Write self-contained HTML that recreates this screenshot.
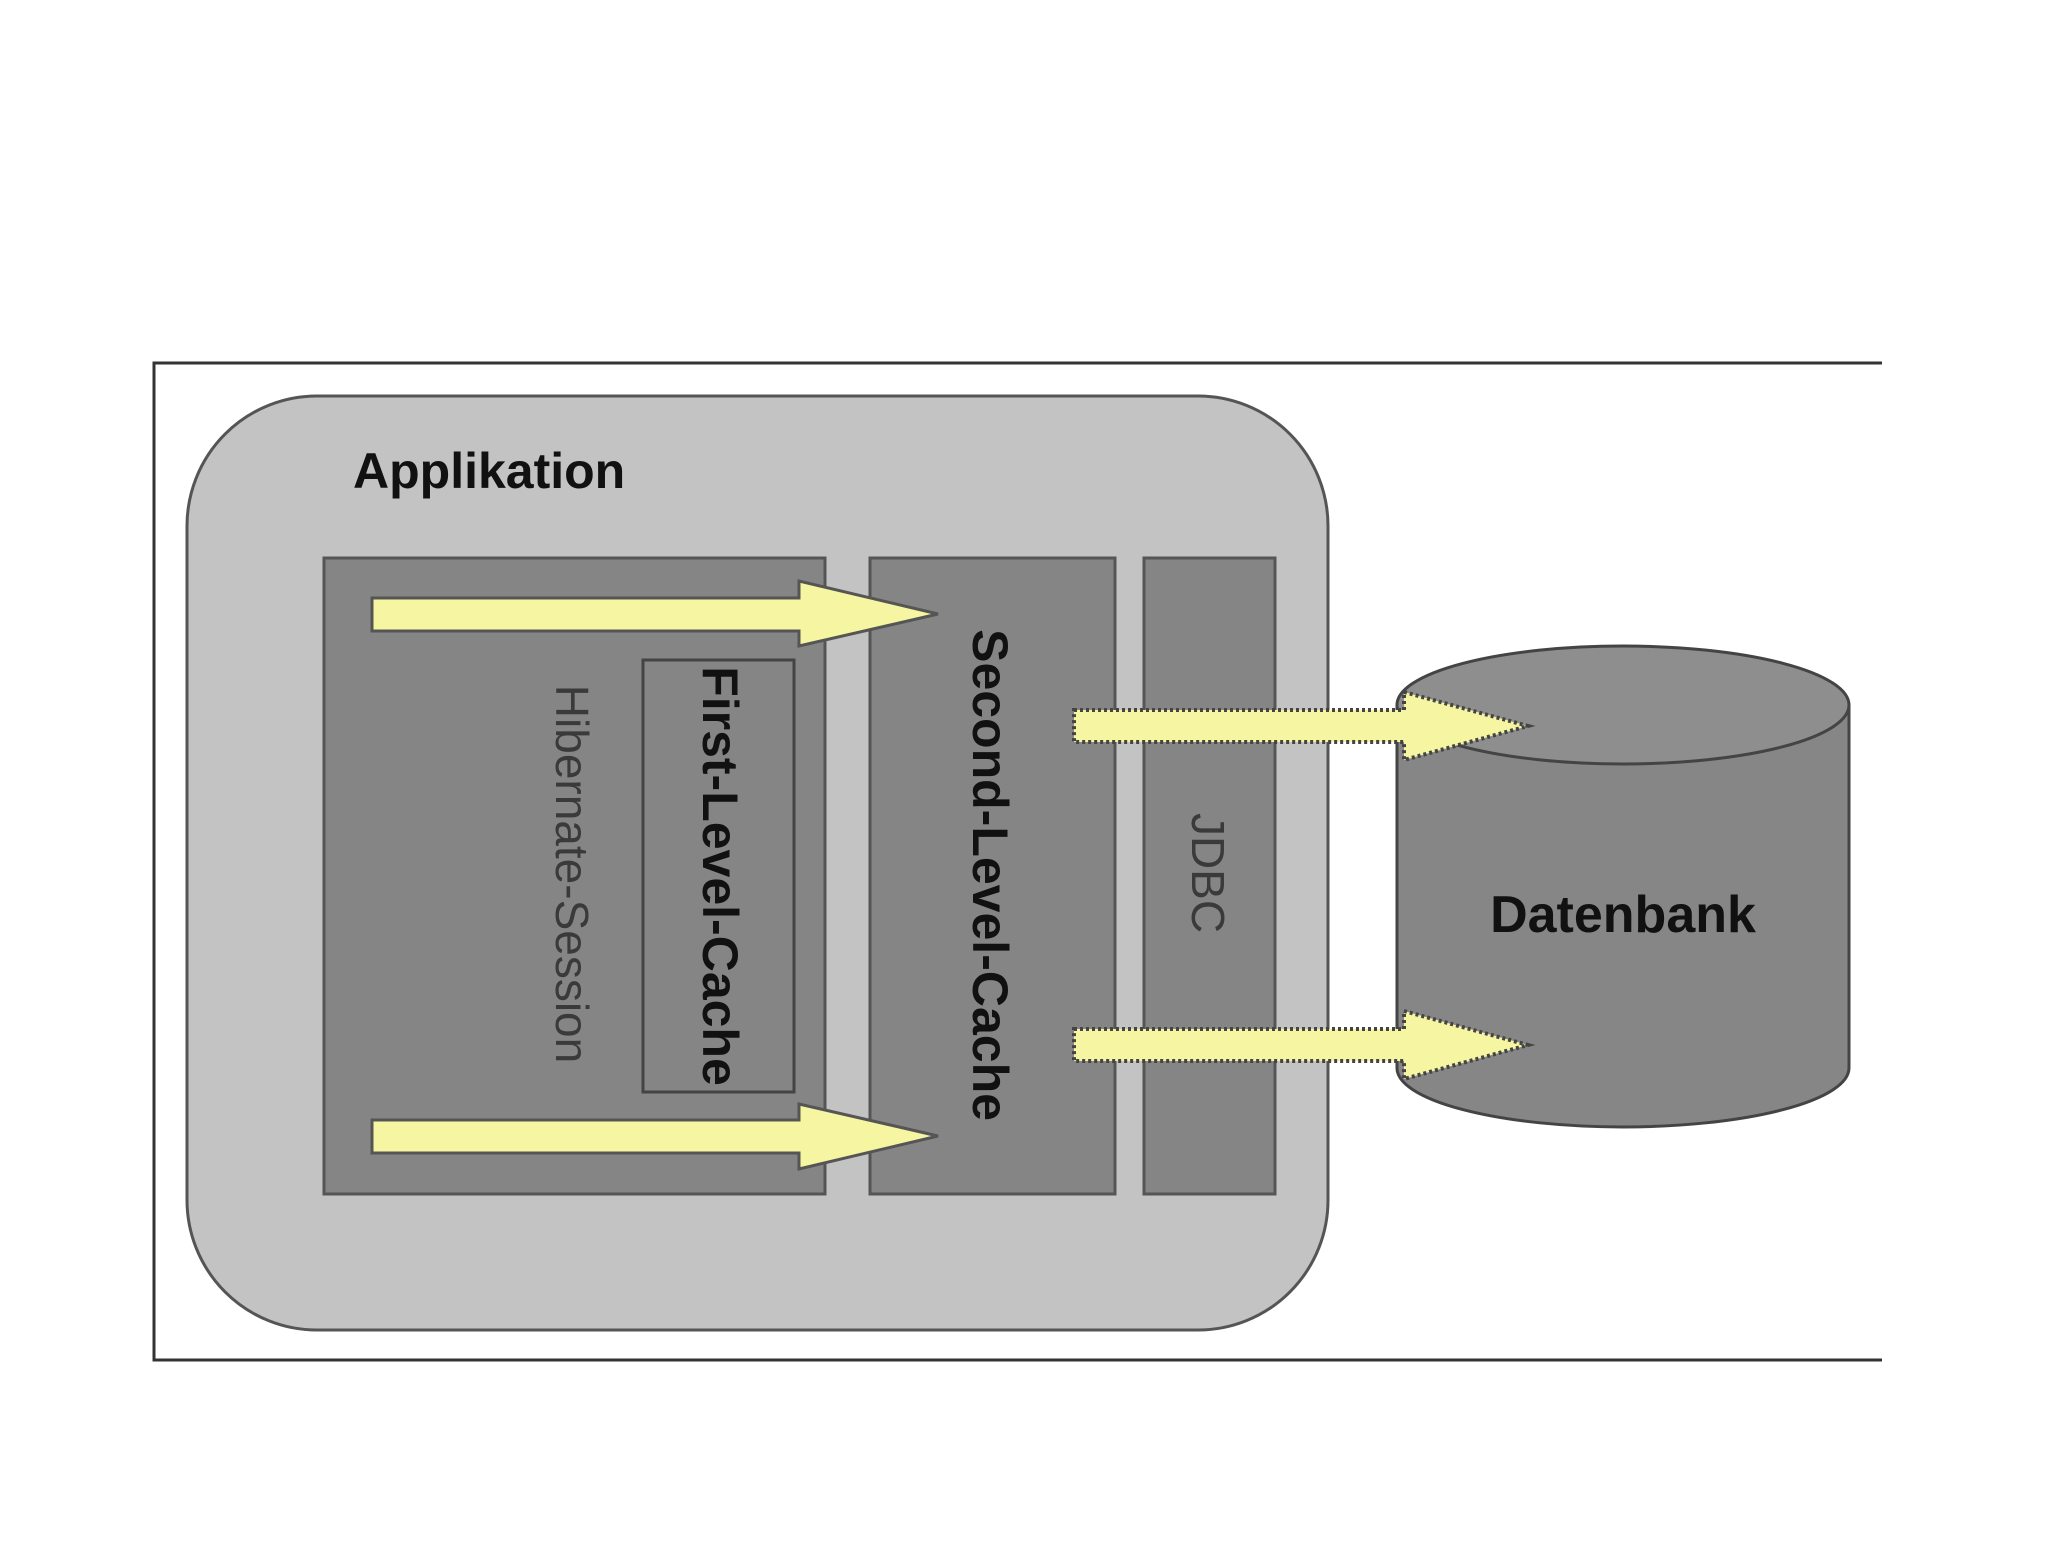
<!DOCTYPE html>
<html><head><style>html,body{margin:0;padding:0;background:#fff}</style></head>
<body>
<svg width="2048" height="1536" viewBox="0 0 2048 1536" xmlns="http://www.w3.org/2000/svg" font-family="'Liberation Sans Narrow','Liberation Sans',sans-serif">
<rect x="0" y="0" width="2048" height="1536" fill="#fff"/>
<path d="M1882 363 L154 363 L154 1360 L1882 1360" fill="#fff" stroke="#333" stroke-width="3"/>
<rect x="187" y="396" width="1141" height="934" rx="130" fill="#c3c3c3" stroke="#555" stroke-width="3"/>
<text x="353" y="488" font-size="50" font-weight="bold" fill="#111">Applikation</text>
<rect x="324" y="558" width="501" height="636" fill="#858585" stroke="#555" stroke-width="3"/>
<rect x="870" y="558" width="245" height="636" fill="#858585" stroke="#555" stroke-width="3"/>
<rect x="1144" y="558" width="131" height="636" fill="#858585" stroke="#555" stroke-width="3"/>
<rect x="643" y="660" width="151" height="432" fill="#858585" stroke="#444" stroke-width="3"/>
<text transform="translate(556,874) rotate(90)" text-anchor="middle" font-size="46" fill="#3a3a3a">Hibernate-Session</text>
<text transform="translate(703,876) rotate(90)" text-anchor="middle" font-size="50" font-weight="bold" fill="#111">First-Level-Cache</text>
<text transform="translate(973,875) rotate(90)" text-anchor="middle" font-size="50" font-weight="bold" fill="#111">Second-Level-Cache</text>
<text transform="translate(1192,873) rotate(90)" text-anchor="middle" font-size="46" fill="#3a3a3a">JDBC</text>
<path d="M372 598 L799 598 L799 581 L938 614 L799 646 L799 631 L372 631 Z" fill="#f6f5a2" stroke="#555" stroke-width="3"/>
<path d="M372 1120 L799 1120 L799 1104 L938 1136 L799 1169 L799 1153 L372 1153 Z" fill="#f6f5a2" stroke="#555" stroke-width="3"/>
<g>
<path d="M1397 705 L1397 1068 A226 59 0 0 0 1849 1068 L1849 705 Z" fill="#868686" stroke="#444" stroke-width="3"/>
<ellipse cx="1623" cy="705" rx="226" ry="59" fill="#8e8e8e" stroke="#444" stroke-width="3"/>
</g>
<text x="1623" y="932" text-anchor="middle" font-size="52" font-weight="bold" fill="#111">Datenbank</text>
<path d="M1074 710 L1404 710 L1404 692 L1528 726 L1404 760 L1404 742 L1074 742 Z" fill="#f6f5a2" stroke="#444" stroke-width="4" stroke-dasharray="3 3"/>
<path d="M1074 1029 L1404 1029 L1404 1011 L1528 1045 L1404 1079 L1404 1061 L1074 1061 Z" fill="#f6f5a2" stroke="#444" stroke-width="4" stroke-dasharray="3 3"/>
</svg>
</body></html>
